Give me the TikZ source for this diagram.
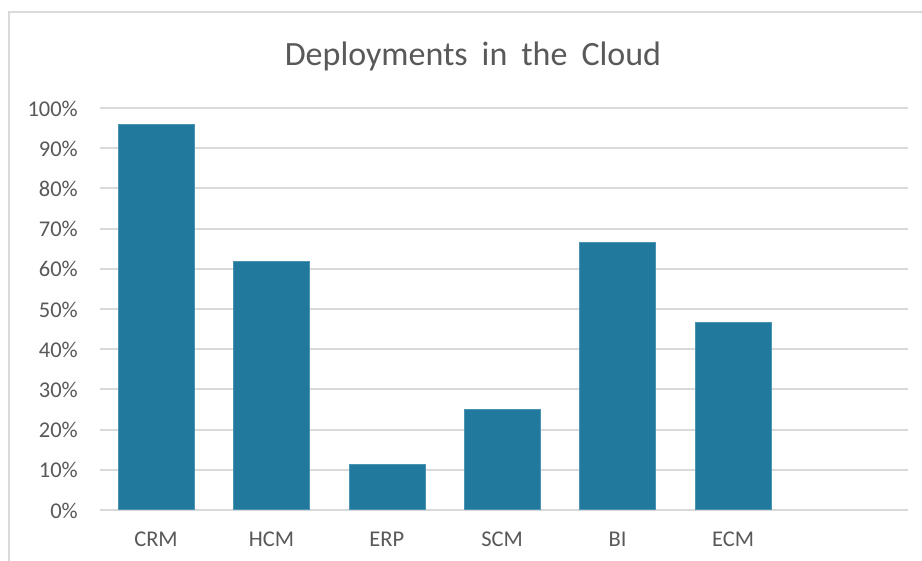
\documentclass[tikz,border=0pt]{standalone}
\usepackage{fontspec}
\setmainfont{Carlito}
\definecolor{barc}{HTML}{21799E}
\definecolor{barl}{HTML}{4A93B3}
\definecolor{gridc}{HTML}{D9D9D9}
\definecolor{txtc}{HTML}{595959}
\newcommand\mytitlefont{\fontsize{34}{40}\selectfont\spaceskip=14pt\relax}
\begin{document}
\begin{tikzpicture}[x=1pt,y=-1pt,
  gridline/.style={draw=gridc,line width=2pt},
  bar/.style={fill=barc,draw=barl,line width=0.6pt,inner sep=0pt,minimum width=76pt,anchor=south},
  ylab/.style={text=txtc,font=\fontsize{22.5}{26}\selectfont,anchor=east,inner sep=0pt},
  xlab/.style={text=txtc,font=\fontsize{22.5}{26}\selectfont,anchor=base,inner sep=0pt},
  ttl/.style={text=txtc,font=\mytitlefont,anchor=base,inner sep=0pt}]
\useasboundingbox (0,0) rectangle (922,561);
\fill[white] (0,0) rectangle (922,561);
\draw[gridc,line width=1.5pt] (9,600) -- (9,12) -- (940,12);
\node[ttl] (title) at (473,66) {Deployments in the Cloud};
\foreach \i/\lab in {0/0\%,1/10\%,2/20\%,3/30\%,4/40\%,5/50\%,6/60\%,7/70\%,8/80\%,9/90\%,10/100\%}{
  \pgfmathsetmacro{\yy}{510-40.2*\i}
  \draw[gridline] (100,\yy) -- (908,\yy);
  \node[ylab] (y\i) at (78,\yy+0.5) {\lab};
}
\foreach \n/\v [count=\k from 0] in {CRM/95.8,HCM/61.7,ERP/11.4,SCM/24.9,BI/66.4,ECM/46.5}{
  \pgfmathsetmacro{\xx}{156+115.4*\k}
  \pgfmathsetmacro{\hh}{4.02*\v}
  \node[bar,minimum height=\hh pt] (b\n) at (\xx,510) {};
  \node[xlab] (l\n) at (\xx,547) {\n};
}
\end{tikzpicture}
\end{document}
